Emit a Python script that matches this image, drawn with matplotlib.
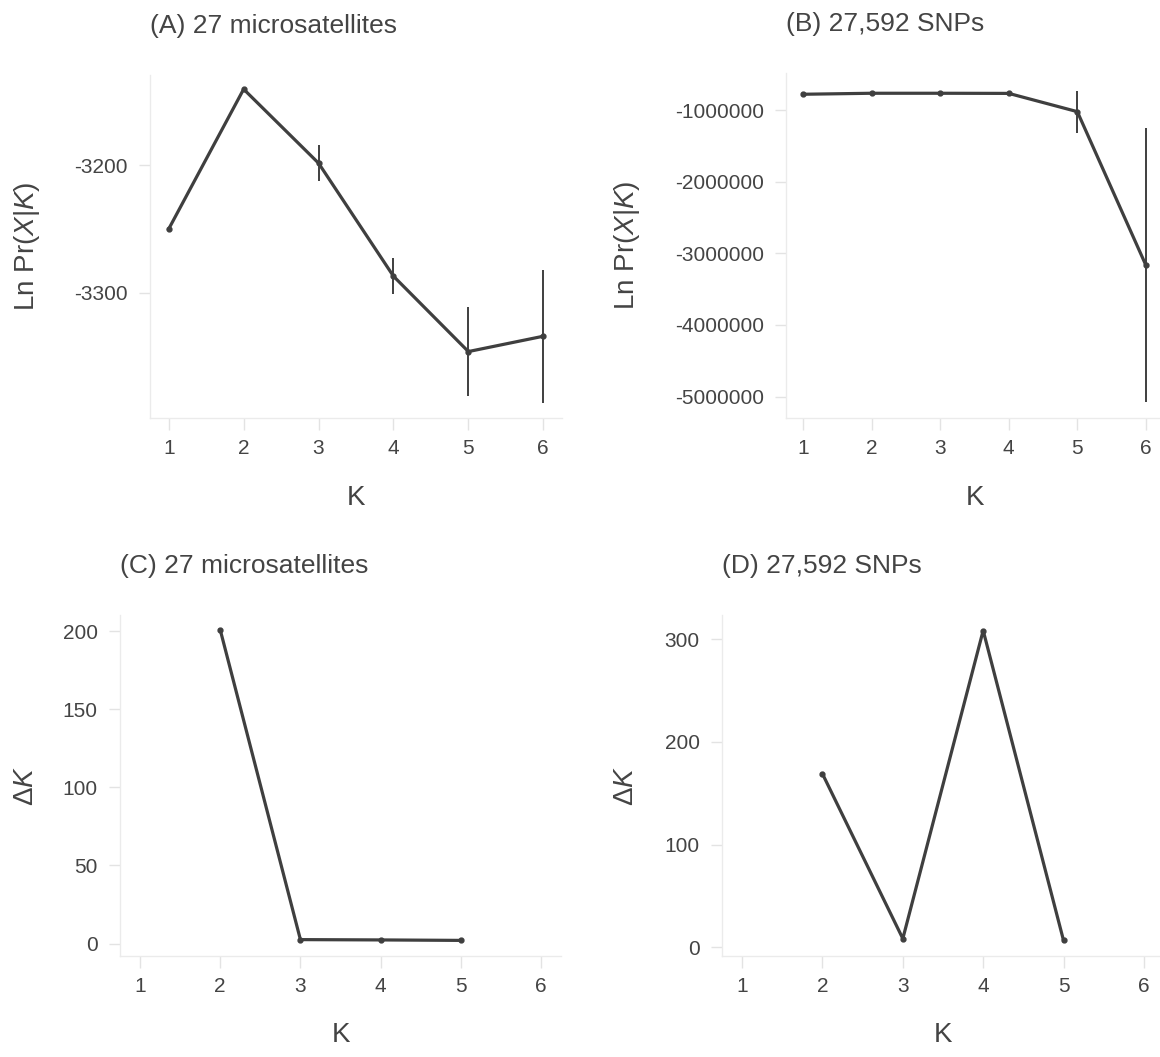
import matplotlib
matplotlib.use("Agg")
import matplotlib.pyplot as plt

plt.rcParams['font.family'] = ['Liberation Sans', 'DejaVu Sans']
plt.rcParams['mathtext.fontset'] = 'custom'
plt.rcParams['mathtext.rm'] = 'Liberation Sans'
plt.rcParams['mathtext.it'] = 'Liberation Sans:italic'
plt.rcParams['axes.unicode_minus'] = False

# data
k_vals = [1, 2, 3, 4, 5, 6]
msat_lnp = [-3250, -3140.6, -3198.5, -3287, -3346, -3334]
msat_sd = [0, 0, 14, 14, 35, 52]
snp_lnp = [-777000, -763000, -763000, -765000, -1020000, -3165000]
snp_sd = [0, 0, 0, 0, 295000, 1915000]

dk_k = [2, 3, 4, 5]
msat_dk = [201, 2.5, 2.3, 2.0]
snp_dk = [169, 8.5, 308.5, 6.7]

titles = ["(A) 27 microsatellites", "(B) 27,592 SNPs",
          "(C) 27 microsatellites", "(D) 27,592 SNPs"]

W, H = 1160, 1057
fig = plt.figure(figsize=(W/100, H/100), dpi=100)

def box(l, r, t, b):
    return [l/W, 1-b/H, (r-l)/W, (b-t)/H]

txt = '#444444'
lc = '#3f3f3f'

def style(ax, title, ylabel, ylab_x):
    for s in ['top', 'right']:
        ax.spines[s].set_visible(False)
    for s in ['left', 'bottom']:
        ax.spines[s].set_color('#ebebeb')
        ax.spines[s].set_linewidth(1.0)
    ax.tick_params(colors='#e3e3e3', labelcolor=txt, labelsize=15, width=1)
    ax.tick_params(axis='x', length=8.5, pad=6.5)
    ax.tick_params(axis='y', length=8, pad=8)
    ax.set_xlim(0.75, 6.25)
    ax.set_xticks(k_vals)
    ax.set_xlabel("K", fontsize=20, color=txt)
    ax.xaxis.set_label_coords(0.5, -0.195)
    ax.xaxis.label.set_va('top')
    ax.set_ylabel(ylabel, fontsize=20, color=txt)
    ax.yaxis.set_label_coords(ylab_x, 0.5)
    ax.set_title(title, loc='left', fontsize=19, color=txt, pad=30)

lnlab = r"Ln Pr($\it{X}$|$\it{K}$)"
dklab = r"$\mathrm{\Delta}\it{K}$"

axA = fig.add_axes(box(150, 562, 75, 418))
axA.errorbar(k_vals, msat_lnp, yerr=msat_sd, color=lc, lw=2.3, marker='o', ms=3.5,
             elinewidth=1.4, capsize=0, solid_joinstyle='round')
axA.set_ylim(-3398, -3129.5)
axA.set_yticks([-3200, -3300])
style(axA, titles[0], lnlab, -0.262)

axB = fig.add_axes(box(786, 1163, 73, 418))
axB.errorbar(k_vals, snp_lnp, yerr=snp_sd, color=lc, lw=2.3, marker='o', ms=3.5,
             elinewidth=1.4, capsize=0, solid_joinstyle='round')
axB.set_ylim(-5300000, -480000)
axB.set_yticks([-1000000, -2000000, -3000000, -4000000, -5000000])
axB.set_yticklabels([str(v) for v in [-1000000, -2000000, -3000000, -4000000, -5000000]])
style(axB, titles[1], lnlab, -0.382)

axC = fig.add_axes(box(120, 561, 615, 956))
axC.plot(dk_k, msat_dk, color=lc, lw=2.3, marker='o', ms=3.5, solid_joinstyle='round')
axC.set_ylim(-8, 210.5)
axC.set_yticks([0, 50, 100, 150, 200])
style(axC, titles[2], dklab, -0.183)

axD = fig.add_axes(box(722, 1164, 615, 956))
axD.plot(dk_k, snp_dk, color=lc, lw=2.3, marker='o', ms=3.5, solid_joinstyle='round')
axD.set_ylim(-8.4, 323.6)
axD.set_yticks([0, 100, 200, 300])
style(axD, titles[3], dklab, -0.188)

fig.savefig("out.png", dpi=100)
